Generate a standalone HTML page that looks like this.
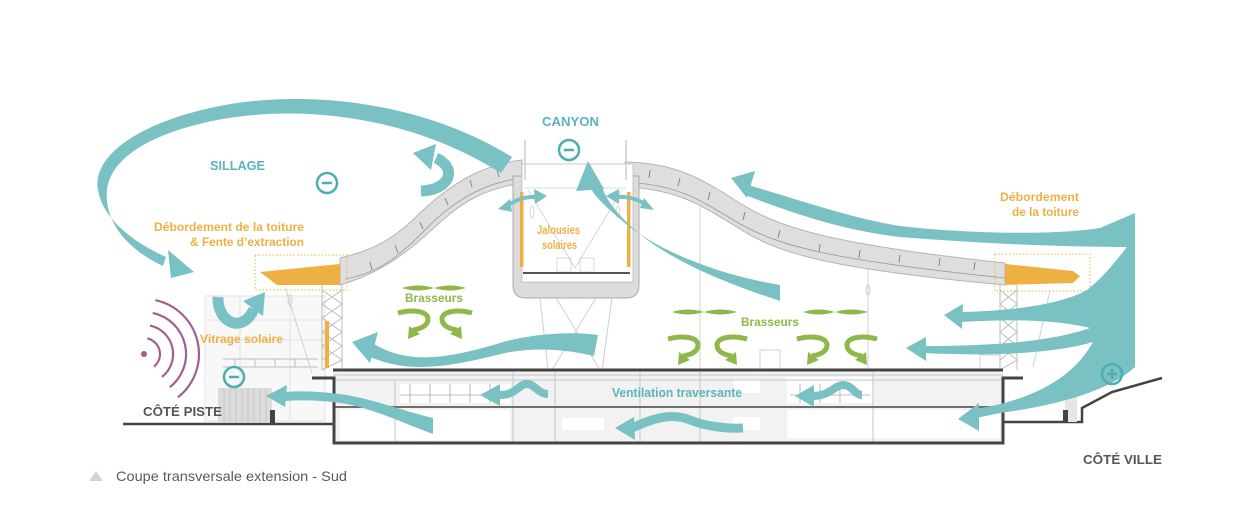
<!DOCTYPE html>
<html><head><meta charset="utf-8"><style>
html,body{margin:0;padding:0;background:#fff;}
svg{display:block;}
text{font-family:"Liberation Sans",sans-serif;}
</style></head><body>
<svg width="1252" height="515" viewBox="0 0 1252 515" xmlns="http://www.w3.org/2000/svg">
<rect width="1252" height="515" fill="#fff"/>

<!-- faint existing building left -->
<g stroke="#e2e2e2" stroke-width="1" fill="none">
  <rect x="205" y="296" width="120" height="125" fill="#f8f8f8"/>
  <line x1="205" y1="320" x2="325" y2="320"/>
  <line x1="205" y1="340" x2="325" y2="340"/>
  <line x1="240" y1="296" x2="240" y2="420"/>
  <line x1="290" y1="296" x2="290" y2="420"/>
</g>
<rect x="218" y="388" width="54" height="34" fill="#dcdcdc"/>
<g stroke="#c4c4c4" stroke-width="0.8">
  <line x1="224" y1="388" x2="224" y2="422"/><line x1="230" y1="388" x2="230" y2="422"/>
  <line x1="236" y1="388" x2="236" y2="422"/><line x1="242" y1="388" x2="242" y2="422"/>
  <line x1="248" y1="388" x2="248" y2="422"/><line x1="254" y1="388" x2="254" y2="422"/>
  <line x1="260" y1="388" x2="260" y2="422"/><line x1="266" y1="388" x2="266" y2="422"/>
</g>
<g stroke="#bdbdbd" stroke-width="1">
  <line x1="223" y1="359" x2="318" y2="359"/><line x1="223" y1="367" x2="318" y2="367"/>
  <line x1="235" y1="359" x2="235" y2="367"/><line x1="255" y1="359" x2="255" y2="367"/>
  <line x1="275" y1="359" x2="275" y2="367"/><line x1="295" y1="359" x2="295" y2="367"/>
</g>
<rect x="270" y="410" width="5" height="14" fill="#444"/>

<!-- structural faint lines -->
<g stroke="#d0d0d0" stroke-width="1" fill="none">
  <line x1="285" y1="287" x2="312" y2="373"/>
  <ellipse cx="290" cy="300" rx="2" ry="5"/>
  <line x1="540" y1="298" x2="548" y2="370"/>
  <line x1="612" y1="298" x2="602" y2="370"/>
  <line x1="556" y1="298" x2="600" y2="370"/>
  <line x1="596" y1="298" x2="552" y2="370"/>
  <line x1="868" y1="255" x2="868" y2="370"/>
  <ellipse cx="868" cy="290" rx="2" ry="5"/>
  <line x1="700" y1="200" x2="700" y2="370"/>
  <line x1="1050" y1="290" x2="1033" y2="367"/>
  <rect x="980" y="355" width="20" height="15"/>
  <rect x="760" y="350" width="20" height="20"/>
</g>

<!-- trusses -->
<g stroke="#bdbdbd" stroke-width="1" fill="none">
  <line x1="322" y1="285" x2="322" y2="370"/><line x1="342" y1="285" x2="342" y2="370"/>
  <path d="M322,290 L342,304 L322,318 L342,332 L322,346 L342,360 L322,370"/>
  <path d="M342,290 L322,304 L342,318 L322,332 L342,346 L322,360"/>
  <line x1="1000" y1="285" x2="1000" y2="370"/><line x1="1017" y1="285" x2="1017" y2="370"/>
  <path d="M1000,290 L1017,304 L1000,318 L1017,332 L1000,346 L1017,360 L1000,370"/>
  <path d="M1017,290 L1000,304 L1017,318 L1000,332 L1017,346 L1000,360"/>
</g>
<rect x="325" y="321" width="4" height="47" fill="#efb043"/>

<!-- building -->
<rect x="333" y="370" width="670" height="72" fill="#f2f2f2"/>
<g fill="#fff">
  <rect x="400" y="384" width="110" height="19"/>
  <rect x="340" y="410" width="170" height="30"/>
  <rect x="562" y="418" width="42" height="12"/>
  <rect x="733" y="380" width="27" height="13"/>
  <rect x="733" y="417" width="27" height="13"/>
  <rect x="787" y="377" width="86" height="26"/>
  <rect x="787" y="410" width="213" height="28"/>
</g>
<g stroke="#c6c6c6" stroke-width="1">
  <line x1="333" y1="375" x2="1003" y2="375"/>
  <line x1="333" y1="380" x2="1003" y2="380"/>
  <line x1="513" y1="370" x2="513" y2="442"/>
  <line x1="555" y1="370" x2="555" y2="442"/>
  <line x1="640" y1="370" x2="640" y2="442"/>
  <line x1="700" y1="370" x2="700" y2="442"/>
  <line x1="873" y1="370" x2="873" y2="442"/>
  <line x1="395" y1="380" x2="395" y2="442"/>
</g>
<g stroke="#aaa" stroke-width="0.8">
  <path d="M400,395 L510,395 M410,384 L410,403 M430,384 L430,403 M450,384 L450,403 M470,384 L470,403 M490,384 L490,403"/>
  <path d="M790,395 L870,395 M800,384 L800,403 M820,384 L820,403 M840,384 L840,403"/>
</g>
<line x1="333" y1="407" x2="1003" y2="407" stroke="#6e6e6e" stroke-width="2"/>
<g stroke="#444" stroke-width="3" fill="none">
  <line x1="333" y1="370" x2="1003" y2="370"/>
  <path d="M312,378 L334,378 L334,443 L1003,443 L1003,378 L1023,378"/>
</g>
<g stroke="#444" stroke-width="2.5" fill="none">
  <line x1="123" y1="424" x2="334" y2="424"/>
  <path d="M1003,422 L1082,422 L1082,408 L1112,392 L1162,378"/>
</g>
<rect x="1065" y="388" width="12" height="34" fill="#e6e6e6"/>
<rect x="1063" y="410" width="5" height="12" fill="#444"/>

<!-- roof -->
<path d="M340,258 C375,250 395,238 420,213 C450,185 480,165 522,160 L522,183 C490,188 468,198 445,218 C415,245 390,270 340,285 Z" fill="#dedede" stroke="#b5b5b5" stroke-width="1"/>
<path d="M345,279 C385,272 405,250 433,222 C462,195 490,182 522,178" fill="none" stroke="#9a9a9a" stroke-width="0.8"/>
<path d="M625,162 C675,163 700,178 735,200 C775,226 820,243 1005,263 L1005,285 C820,268 775,252 735,226 C700,204 675,189 625,187 Z" fill="#dedede" stroke="#b5b5b5" stroke-width="1"/>
<path d="M625,182 C680,185 700,200 740,224 C780,246 830,260 1005,278" fill="none" stroke="#9a9a9a" stroke-width="0.8"/>
<g stroke="#888" stroke-width="1">
  <path d="M370,262 l2,8 M395,245 l3,8 M420,222 l3,7 M445,198 l3,7 M470,180 l2,7 M497,170 l2,7"/>
  <path d="M650,170 l-1,8 M680,178 l-2,8 M710,192 l-2,8 M745,212 l-2,8 M780,230 l-2,8 M820,244 l-1,8 M860,250 l-1,8 M900,255 l-1,8 M940,258 l-1,8 M975,262 l-1,8"/>
</g>
<!-- overhangs -->
<polygon points="260,272 340,264 340,285 277,285" fill="#efb043"/>
<polygon points="1005,264 1073,271 1080,276 1073,283 1005,285" fill="#efb043"/>
<rect x="255" y="255" width="92" height="35" fill="none" stroke="#efb043" stroke-width="1" stroke-dasharray="1.5 2"/>
<rect x="995" y="254" width="95" height="37" fill="none" stroke="#efb043" stroke-width="1" stroke-dasharray="1.5 2"/>

<!-- canyon -->
<path d="M513,176 L513,285 Q513,298 526,298 L626,298 Q639,298 639,285 L639,176 Z" fill="#dcdcdc" stroke="#aaa" stroke-width="1"/>
<rect x="522" y="164" width="111" height="118" fill="#fff" stroke="#bbb" stroke-width="0.8"/>
<g stroke="#ccc" stroke-width="1.5">
  <line x1="525" y1="140" x2="525" y2="180"/><line x1="626" y1="140" x2="626" y2="180"/>
</g>
<g stroke="#cfcfcf" stroke-width="0.8" fill="none">
  <line x1="528" y1="190" x2="575" y2="268"/>
  <line x1="622" y1="190" x2="575" y2="268"/>
  <line x1="525" y1="188" x2="626" y2="188"/>
  <ellipse cx="532" cy="212" rx="2" ry="6"/>
  <ellipse cx="618" cy="212" rx="2" ry="6"/>
  <rect x="557" y="258" width="14" height="14"/><rect x="580" y="258" width="14" height="14"/>
</g>
<line x1="523" y1="273" x2="630" y2="273" stroke="#555" stroke-width="2"/>
<rect x="520" y="192" width="3.5" height="75" fill="#efb043"/>
<rect x="627" y="192" width="3.5" height="75" fill="#efb043"/>

<!-- teal arrows -->
<g fill="#7ac1c4">
  <!-- sillage -->
  <path d="M512,157 C420,100 300,88 210,108 C130,126 92,160 98,190 C103,220 135,243 166,257 L163,266 C128,250 104,222 107,190 C110,162 142,136 212,121 C300,103 410,116 501,173 Z"/>
  <polygon points="194,272 168,250 171,278"/>
  <!-- top curl -->
  <polygon points="413,153 436,144 431,170"/>
  <!-- canyon arrow -->
  <path d="M780,285 C720,275 660,252 626,224 C606,207 594,196 591,188 L602,187 C606,199 616,213 636,231 C670,260 722,282 780,301 Z"/>
  <polygon points="588,161 576,191 604,189"/>
  <!-- right fan -->
  <path d="M748,185 C800,200 850,218 900,226 C960,233 1050,236 1100,228 L1135,213 L1135,367 C1110,390 1060,405 1000,413 L976,418 L976,409 C1030,400 1072,380 1093,342 C1060,352 1000,357 924,353 L924,346 C990,346 1050,342 1090,328 C1050,318 1000,320 960,322 L960,312 C1010,311 1060,305 1087,290 C1105,276 1118,258 1127,247 C1080,247 1000,245 900,237 C840,230 790,212 745,195 Z"/>
  <polygon points="731,178 755,171 747,198"/>
  <polygon points="944,315 963,304 962,329"/>
  <polygon points="906,348 926,337 926,361"/>
  <polygon points="958,419 979,403 979,431"/>
  <!-- left wavy arrow -->
  <path d="M598,335 C570,331 530,334 500,343 C470,352 440,359 415,357 C396,355 384,350 374,344 L370,357 C385,363 400,367 420,367 C450,367 480,359 505,353 C535,347 565,349 594,356 Z"/>
  <polygon points="352,342 378,332 370,363"/>
  <!-- lower-left arrow -->
  <path d="M433,418 C400,410 370,398 340,394 C315,391 300,391 285,392 L285,401 C300,400 320,400 340,403 C370,407 400,422 433,434 Z"/>
  <polygon points="266,396 287,385 285,407"/>
  <!-- small heads -->
  <polygon points="498,209 510,199 512,212"/>
  <polygon points="547,196 534,189 535,204"/>
  <polygon points="606,196 619,189 619,204"/>
  <polygon points="654,210 640,208 644,198"/>
  <polygon points="265,292 243,301 263,316"/>
  <polygon points="480,395 500,384 500,406"/>
  <polygon points="795,396 814,385 814,407"/>
  <polygon points="615,428 634,417 635,440"/>
</g>
<g fill="none" stroke="#7ac1c4">
  <path d="M421,191 C450,190 458,168 436,158" stroke-width="11"/>
  <path d="M507,206 Q521,196 538,197" stroke-width="4"/>
  <path d="M616,197 Q634,196 646,205" stroke-width="4"/>
  <path d="M218,297 C217,322 242,335 254,309" stroke-width="11"/>
  <path d="M548,394 C538,394 534,383 526,384 C518,385 515,396 498,395" stroke-width="8"/>
  <path d="M862,395 C855,395 852,385 843,385 C835,385 830,396 812,396" stroke-width="8"/>
  <path d="M743,428 C725,429 705,426 690,420 C675,414 660,415 632,428" stroke-width="9"/>
</g>

<!-- circles -->
<g fill="none" stroke="#4daeb2" stroke-width="2.5">
  <circle cx="327" cy="183" r="10"/>
  <circle cx="569" cy="150" r="10"/>
  <circle cx="234" cy="377" r="10"/>
  <circle cx="1112" cy="374" r="10"/>
  <path d="M322,183 h10 M564,150 h10 M229,377 h10 M1107,374 h10 M1112,369 v10"/>
</g>

<!-- radio waves -->
<circle cx="144" cy="354" r="3" fill="#a15f8f"/>
<g fill="none" stroke="#a15f8f" stroke-width="2.2">
  <path d="M147.3,338.4 A16,16 0 0 1 153.9,366.6"/>
  <path d="M150,325.6 A29,29 0 0 1 161.9,376.9"/>
  <path d="M152.7,312.9 A42,42 0 0 1 169.9,387.1"/>
  <path d="M155.4,300.2 A55,55 0 0 1 177.9,397.3"/>
</g>

<!-- brasseurs -->
<defs>
  <g id="curl">
    <path d="M0,3 C14,-1 30,1 30,9 C30,16 22,19 15,20" fill="none" stroke="#8fb74a" stroke-width="5"/>
    <polygon points="10,29 11,16 22,24" fill="#8fb74a"/>
  </g>
</defs>
<g fill="#8fb74a">
  <path d="M402,288 Q418,283 434,288 Q418,293 402,288 Z"/>
  <path d="M434,288 Q450,283 466,288 Q450,293 434,288 Z"/>
  <path d="M672,312 Q688,307 704,312 Q688,317 672,312 Z"/>
  <path d="M704,312 Q720,307 737,312 Q720,317 704,312 Z"/>
  <path d="M803,312 Q819,307 835,312 Q819,317 803,312 Z"/>
  <path d="M835,312 Q851,307 868,312 Q851,317 835,312 Z"/>
</g>
<use href="#curl" transform="translate(398,310)"/>
<use href="#curl" transform="translate(472,310) scale(-1,1)"/>
<use href="#curl" transform="translate(668,336)"/>
<use href="#curl" transform="translate(747,336) scale(-1,1)"/>
<use href="#curl" transform="translate(797,336)"/>
<use href="#curl" transform="translate(877,336) scale(-1,1)"/>

<!-- texts -->
<g font-weight="bold">
  <text x="210" y="170" font-size="13" fill="#5ab5b8" textLength="55" lengthAdjust="spacingAndGlyphs">SILLAGE</text>
  <text x="542" y="126" font-size="13" fill="#5ab5b8" textLength="57" lengthAdjust="spacingAndGlyphs">CANYON</text>
  <text x="154" y="231" font-size="12" fill="#eeb043" textLength="150" lengthAdjust="spacingAndGlyphs">Débordement de la toiture</text>
  <text x="190" y="246" font-size="12" fill="#eeb043" textLength="114" lengthAdjust="spacingAndGlyphs">&amp; Fente d’extraction</text>
  <text x="537" y="234" font-size="12" fill="#eeb043" textLength="43" lengthAdjust="spacingAndGlyphs">Jalousies</text>
  <text x="542" y="249" font-size="12" fill="#eeb043" textLength="35" lengthAdjust="spacingAndGlyphs">solaires</text>
  <text x="405" y="302" font-size="12" fill="#8fb74a" textLength="58" lengthAdjust="spacingAndGlyphs">Brasseurs</text>
  <text x="741" y="326" font-size="12" fill="#8fb74a" textLength="58" lengthAdjust="spacingAndGlyphs">Brasseurs</text>
  <text x="200" y="343" font-size="12" fill="#eeb043" textLength="83" lengthAdjust="spacingAndGlyphs">Vitrage solaire</text>
  <text x="1000" y="201" font-size="12" fill="#eeb043" textLength="79" lengthAdjust="spacingAndGlyphs">Débordement</text>
  <text x="1012" y="216" font-size="12" fill="#eeb043" textLength="67" lengthAdjust="spacingAndGlyphs">de la toiture</text>
  <text x="612" y="397" font-size="12.5" fill="#5ab5b8" textLength="130" lengthAdjust="spacingAndGlyphs">Ventilation traversante</text>
  <text x="143" y="416" font-size="13" fill="#555" textLength="79" lengthAdjust="spacingAndGlyphs">CÔTÉ PISTE</text>
  <text x="1083" y="464" font-size="13" fill="#555" textLength="79" lengthAdjust="spacingAndGlyphs">CÔTÉ VILLE</text>
</g>
<polygon points="89,481 96,471 103,481" fill="#d2d2d2"/>
<text x="116" y="481" font-size="14" fill="#5a5a5a" textLength="231" lengthAdjust="spacingAndGlyphs">Coupe transversale extension - Sud</text>
</svg>
</body></html>
